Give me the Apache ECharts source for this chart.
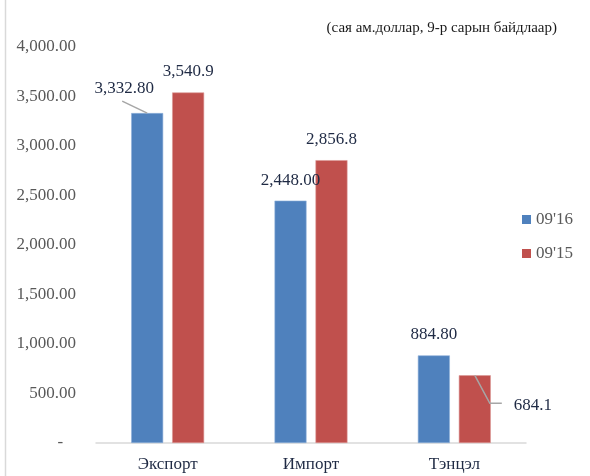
<!DOCTYPE html>
<html>
<head>
<meta charset="utf-8">
<script src="https://cdn.jsdelivr.net/npm/echarts@6/dist/echarts.min.js"></script>
<style>
  html, body { margin: 0; padding: 0; background: #fff; }
  #main { width: 590px; height: 476px; }
</style>
</head>
<body>
<div id="main"></div>
<script>
// ангилал ба цувралууд
var categories = ["Экспорт", "Импорт", "Тэнцэл"];
var seriesNames = ["09'16", "09'15"];
var values2016 = [3332.8, 2448.0, 884.8];
var values2015 = [3540.9, 2856.8, 684.1];
var yTicks = [0, 500, 1000, 1500, 2000, 2500, 3000, 3500, 4000];
var note = "(сая ам.доллар, 9-р сарын байдлаар)";

var serif = "'Liberation Serif', 'Times New Roman', serif";
var BAR_W = 32, BAR_GAP = 0.28;
var barShift = (BAR_W + BAR_W * BAR_GAP) / 2; // баганын төвийн шилжилт

function fmt(v, digits) {
  var s = v.toFixed(digits).split(".");
  s[0] = s[0].replace(/\B(?=(\d{3})+(?!\d))/g, ",");
  return s.join(".");
}

// гараар зөөсөн шошгууд
var moved2016 = { 0: { dx: -23, dy: -4 } };
var moved2015 = { 2: { dx: 58, dy: 51 } };

// хөтлөх зураасны хэлбэр (баганын оройгоос харьцангуй)
var guideShapes = {
  up: [[0, 0], [-25, -12]],
  down: [[0, 0], [15, 28], [27, 28]]
};
var guides = [];
Object.keys(moved2016).forEach(function (k) {
  guides.push([+k, values2016[k], -1, "up"]);
});
Object.keys(moved2015).forEach(function (k) {
  guides.push([+k, values2015[k], 1, "down"]);
});

var myChart = echarts.init(document.getElementById("main"));

function barLabel(digits, moved) {
  return {
    label: {
      show: true,
      position: "top",
      distance: 12,
      fontFamily: serif,
      fontSize: 17,
      color: "#1f2a44",
      formatter: function (p) { return fmt(p.value, digits); }
    },
    labelLayout: function (p) { return moved[p.dataIndex] || {}; }
  };
}

var option = {
  animation: false,
  title: {
    text: note,
    right: 28,
    top: 16,
    textStyle: { fontFamily: serif, fontSize: 15, fontWeight: "normal", color: "#1a1a1a" }
  },
  legend: {
    data: seriesNames,
    orient: "vertical",
    left: 522,
    top: 211,
    padding: 0,
    itemGap: 17,
    itemWidth: 9,
    itemHeight: 9,
    icon: "rect",
    itemStyle: { borderWidth: 0 },
    textStyle: { fontFamily: serif, fontSize: 17, color: "#595959" }
  },
  grid: {
    left: 96,
    right: 64,
    top: 47,
    bottom: 33,
    containLabel: false,
    outerBoundsMode: "none"
  },
  xAxis: {
    type: "category",
    data: categories,
    axisLine: { lineStyle: { color: "#d9d9d9", width: 1.5 } },
    axisTick: { show: false },
    axisLabel: { margin: 13, fontFamily: serif, fontSize: 17, color: "#1f2a44" }
  },
  yAxis: {
    type: "value",
    min: yTicks[0],
    max: yTicks[yTicks.length - 1],
    interval: yTicks[1] - yTicks[0],
    axisLine: { show: false },
    axisTick: { show: false },
    splitLine: { show: false },
    axisLabel: {
      margin: 20,
      fontFamily: serif,
      fontSize: 17,
      color: "#595959",
      formatter: function (v) { return v === 0 ? "-   " : fmt(v, 2); }
    }
  },
  series: [
    Object.assign({
      name: seriesNames[0],
      type: "bar",
      data: values2016,
      barWidth: BAR_W,
      barGap: BAR_GAP * 100 + "%",
      itemStyle: { color: "#4F81BD", borderColor: "#8eb0da", borderWidth: 0.6 }
    }, barLabel(2, moved2016)),
    Object.assign({
      name: seriesNames[1],
      type: "bar",
      data: values2015,
      barWidth: BAR_W,
      itemStyle: { color: "#C0504D", borderColor: "#dc9997", borderWidth: 0.6 }
    }, barLabel(1, moved2015)),
    {
      name: "guides",
      type: "custom",
      silent: true,
      z: 5,
      data: guides,
      renderItem: function (params, api) {
        var p = api.coord([api.value(0), api.value(1)]);
        var g = guides[params.dataIndex];
        var x0 = p[0] + g[2] * barShift, y0 = p[1];
        var pts = guideShapes[g[3]].map(function (d) { return [x0 + d[0], y0 + d[1]]; });
        return {
          type: "polyline",
          shape: { points: pts },
          style: { stroke: "#a6a6a6", lineWidth: 1.5, fill: null }
        };
      }
    }
  ],
  graphic: [
    {
      type: "line",
      shape: { x1: 5.5, y1: 0, x2: 5.5, y2: 476 },
      style: { stroke: "#d9d9d9", lineWidth: 1.5 },
      silent: true
    }
  ]
};

myChart.setOption(option);
</script>
</body>
</html>
